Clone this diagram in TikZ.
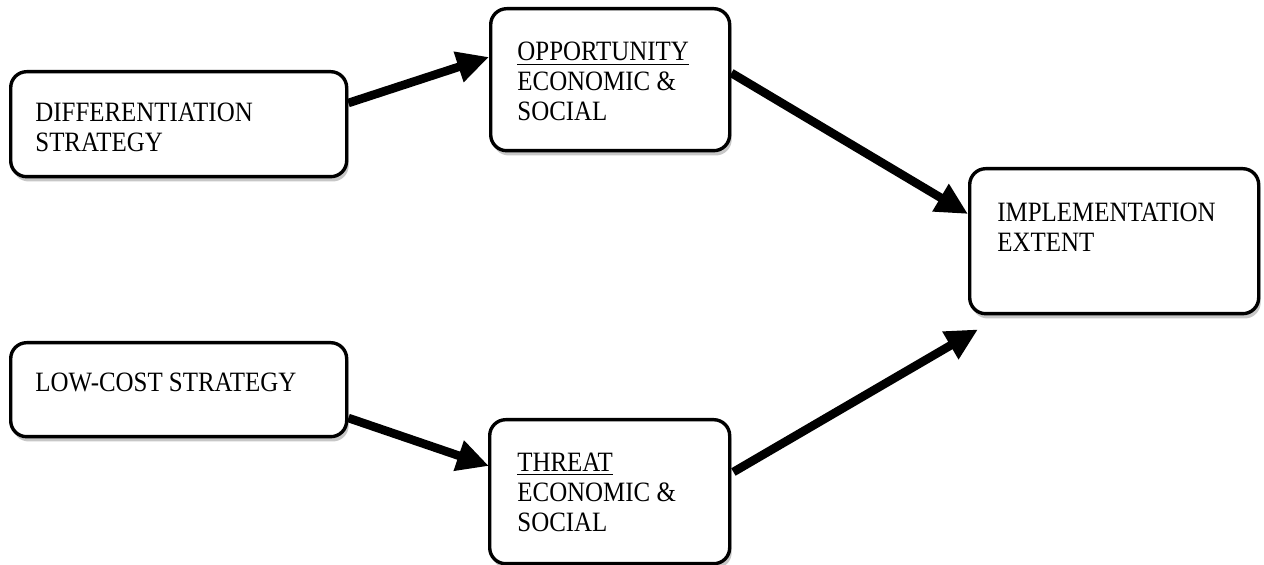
\documentclass[tikz,border=0pt]{standalone}
\usepackage{fontspec}
\setmainfont[FakeStretch=0.89]{Liberation Serif}
\usetikzlibrary{arrows.meta,shadows,calc}
\begin{document}
\begin{tikzpicture}[x=0.5pt,y=-0.5pt,
  box/.style={draw=black, line width=1.7pt, rounded corners=8pt, fill=white,
    inner sep=0pt, anchor=north west,
    drop shadow={shadow xshift=1pt, shadow yshift=-2.4pt, fill=black!22, opacity=1}},
  txt/.style={anchor=north west, inner sep=0pt, align=left,
    font=\fontsize{14}{15}\selectfont},
  conn/.style={line width=4.3pt, -{Triangle[length=16pt,width=15pt]}}]
\useasboundingbox (0,0) rectangle (1264,565);
% boxes
\node[box, minimum width=168pt, minimum height=52.5pt] (diff) at (9,70) {};
\node[box, minimum width=119.5pt, minimum height=71pt] (opp) at (489,7) {};
\node[box, minimum width=144.5pt, minimum height=72.5pt] (impl) at (968,167) {};
\node[box, minimum width=168pt, minimum height=47pt] (low) at (9,341) {};
\node[box, minimum width=120pt, minimum height=72pt] (threat) at (488,418) {};
% texts
\node[txt] (diffT) at ($(diff.north west)+(26,33)$) {DIFFERENTIATION\\STRATEGY};
\node[txt] (oppT) at ($(opp.north west)+(28,35)$) {\underline{OPPORTUNITY}\\ECONOMIC \&\\SOCIAL};
\node[txt] (implT) at ($(impl.north west)+(29,36)$) {IMPLEMENTATION\\EXTENT};
\node[txt] (lowT) at ($(low.north west)+(26,32)$) {LOW-COST STRATEGY};
\node[txt] (threatT) at ($(threat.north west)+(29,35)$) {\underline{THREAT}\\ECONOMIC \&\\SOCIAL};
% connectors
\draw[conn] ($(diff.north east)+(0,33)$) -- ($(opp.north west)+(0,50)$);
\draw[conn] ($(opp.north east)+(0,66)$) -- ($(impl.north west)+(0,47)$);
\draw[conn] ($(low.north east)+(0,77)$) -- ($(threat.north west)+(1,48)$);
\draw[conn] ($(threat.north east)+(2,54)$) -- ($(impl.south west)+(10,14)$);
\end{tikzpicture}
\end{document}
